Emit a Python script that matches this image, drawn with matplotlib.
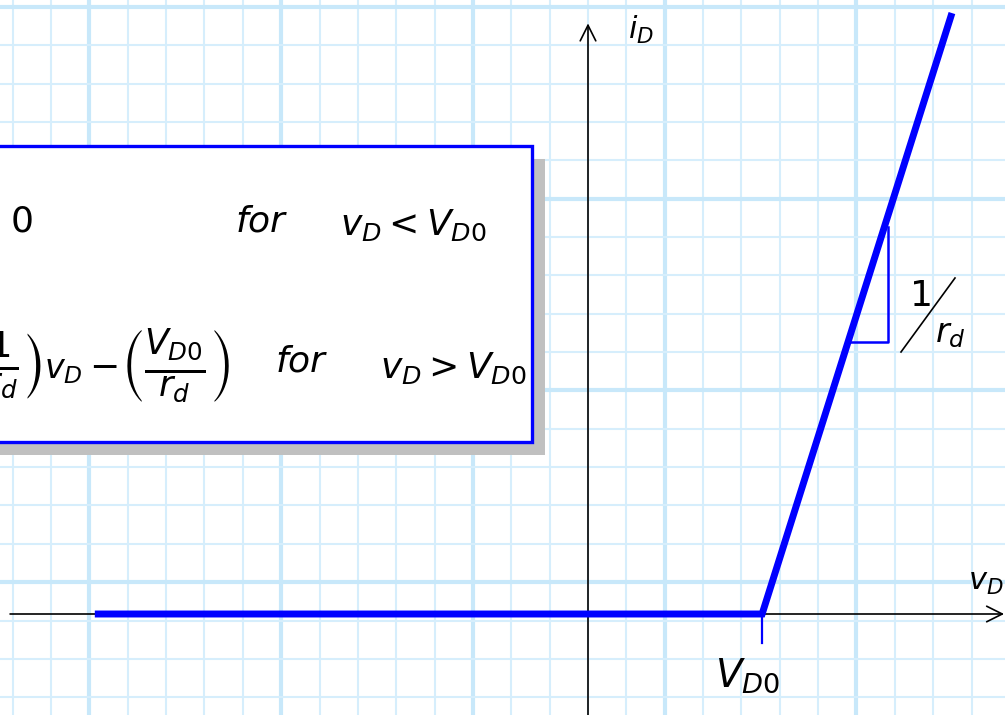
import matplotlib
matplotlib.use("Agg")
import matplotlib.pyplot as plt
from matplotlib.patches import Rectangle

# grid cell = 38.35 px, origin where the axes cross
CELL = 38.35
OX, OY = 588, 614          # pixel position of the origin

def P(x, y):
    # pixel -> data (cell units)
    return (x - OX) / CELL, (OY - y) / CELL

# piecewise linear diode model
curve_x = [-12.86, 4.54, 9.49]
curve_y = [0.0, 0.0, 15.67]
v_d0 = 4.54

# slope triangle
tri_x = [6.78, 7.82, 7.82]
tri_y = [7.09, 7.09, 10.09]

# axes lines
xaxis_x = [-15.07, 10.85]
yaxis_y = [-2.7, 15.40]

blue = "#0000ff"
grid_thin = "#d6eefc"
grid_thick = "#c8e8fa"

fig = plt.figure(figsize=(10.05, 7.15), dpi=100)
ax = fig.add_axes([0, 0, 1, 1])
x0, y1 = P(0, 0)
x1, y0 = P(1005, 715)
ax.set_xlim(x0, x1)
ax.set_ylim(y0, y1)
ax.axis("off")

# graph paper
for k in range(-16, 12):
    thick = (k - 2) % 5 == 0
    ax.axvline(k, color=grid_thick if thick else grid_thin,
               lw=3.0 if thick else 1.5, zorder=0)
for k in range(-4, 17):
    thick = k % 5 == 0
    ax.axhline(0.83 + k, color=grid_thick if thick else grid_thin,
               lw=3.0 if thick else 1.5, zorder=0)

# axes with open arrow heads
ax.annotate("", xy=(xaxis_x[1], 0), xytext=(xaxis_x[0], 0),
            arrowprops=dict(arrowstyle="->", color="black", lw=1.2,
                            mutation_scale=28, shrinkA=0, shrinkB=0), zorder=3)
ax.annotate("", xy=(0, yaxis_y[1]), xytext=(0, yaxis_y[0]),
            arrowprops=dict(arrowstyle="->", color="black", lw=1.2,
                            mutation_scale=28, shrinkA=0, shrinkB=0), zorder=3)

# characteristic
ax.plot(curve_x, curve_y, color=blue, lw=5.0, solid_capstyle="butt",
        solid_joinstyle="miter", zorder=4)
ax.plot([v_d0, v_d0], [0, -0.75], color=blue, lw=1.6, zorder=4)
ax.plot(tri_x, tri_y, color=blue, lw=1.8, zorder=4)

# labels
ax.text(*P(628, 30), r"$i_D$", fontsize=22, va="center", ha="left")
ax.text(*P(968, 582), r"$v_D$", fontsize=22, va="center", ha="left")
ax.text(*P(715, 676), r"$V_{D0}$", fontsize=28, va="center", ha="left")
ax.text(*P(922, 296), "1", fontsize=26, va="center", ha="center")
sx0, sy0 = P(901, 352)
sx1, sy1 = P(955, 278)
ax.plot([sx0, sx1], [sy0, sy1], color="black", lw=1.2)
ax.text(*P(935, 333), r"$r_d$", fontsize=24, va="center", ha="left")

# equation box with shadow
bx0, by1 = P(-30, 146)
bx1, by0 = P(532, 442)
sh = 13 / CELL
ax.add_patch(Rectangle((bx0 + sh, by0 - sh), bx1 - bx0, by1 - by0,
                       facecolor="#c0c0c0", edgecolor="none", zorder=5))
ax.add_patch(Rectangle((bx0, by0), bx1 - bx0, by1 - by0,
                       facecolor="white", edgecolor=blue, lw=2.4, zorder=6))

fs = 26
ffs = 36
ax.text(*P(42, 366), r"$\left(\frac{1}{r_d}\right)$",
        fontsize=ffs, va="center", ha="right", zorder=7)
ax.text(*P(22, 222), "0", fontsize=fs, va="center", ha="center", zorder=7)
ax.text(*P(235, 222), r"$\mathit{for}$", fontsize=fs, va="center", ha="left", zorder=7)
ax.text(*P(340, 225), r"$v_D < V_{D0}$", fontsize=fs, va="center", ha="left", zorder=7)
ax.text(*P(44, 370), r"$v_D$", fontsize=24, va="center", ha="left", zorder=7)
ax.text(*P(103, 366), r"$-$", fontsize=fs, va="center", ha="center", zorder=7)
ax.text(*P(121, 366), r"$\left(\frac{V_{D0}}{r_d}\right)$",
        fontsize=ffs, va="center", ha="left", zorder=7)
ax.text(*P(275, 362), r"$\mathit{for}$", fontsize=fs, va="center", ha="left", zorder=7)
ax.text(*P(380, 368), r"$v_D > V_{D0}$", fontsize=fs, va="center", ha="left", zorder=7)

# clipped title fragment at the top edge
ax.text(*P(-4, 4), "de:", fontsize=30, fontweight="bold", va="bottom", ha="left")

fig.savefig("out.png", dpi=100)
